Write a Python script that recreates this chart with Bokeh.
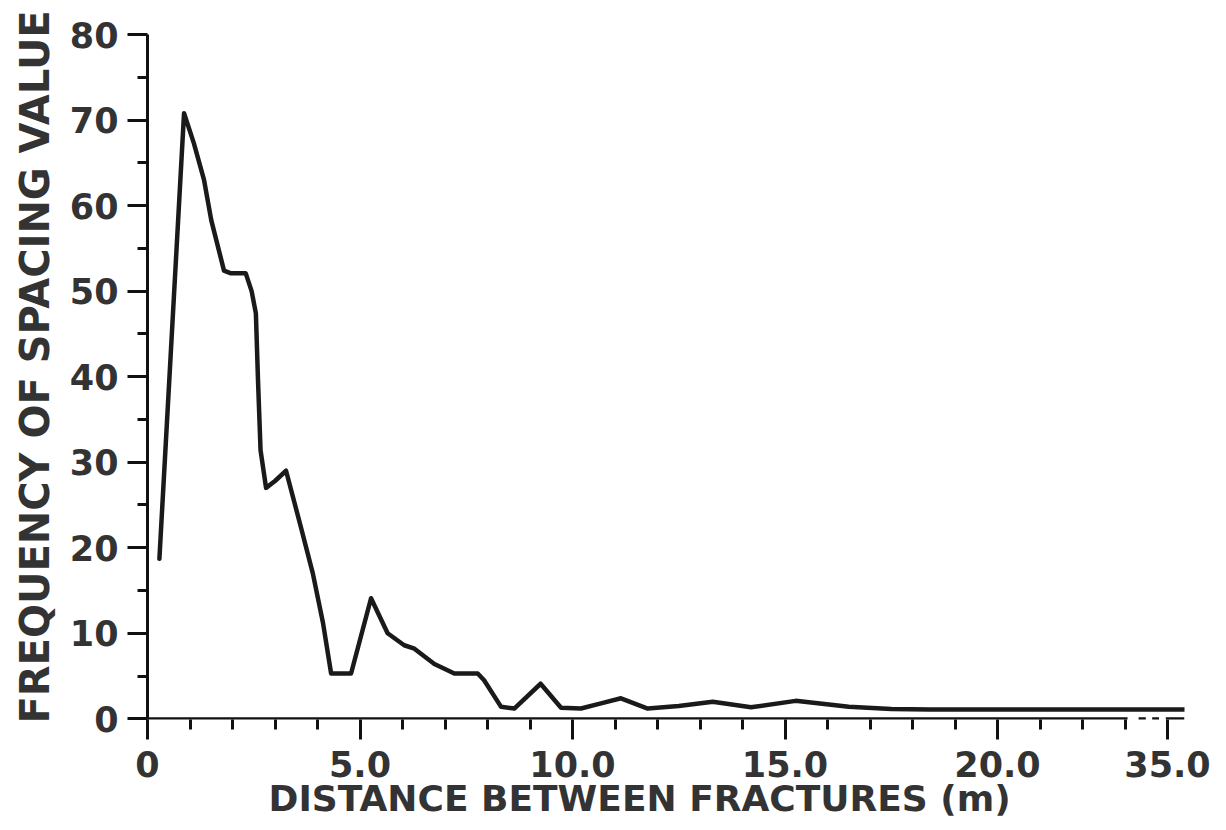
from bokeh.plotting import figure
from bokeh.models import Range1d, FixedTicker, Title
from bokeh.embed import file_html
from bokeh.resources import INLINE

# ---- data (distance in m, frequency of spacing value) ----
distance = [0.28, 0.86, 1.09, 1.33, 1.50, 1.80, 1.95, 2.31, 2.45, 2.55, 2.60, 2.66,
            2.79, 3.00, 3.26, 3.61, 3.89, 4.13, 4.32, 4.79, 5.26, 5.65, 6.04, 6.28,
            6.75, 7.22, 7.77, 7.92, 8.32, 8.63, 9.25, 9.73, 10.20, 10.67, 11.14,
            11.77, 12.50, 13.30, 14.20, 15.25, 16.50, 17.50, 18.40, 23.00, 35.40]
frequency = [18.7, 70.8, 67.3, 63.0, 58.3, 52.4, 52.1, 52.1, 50.0, 47.4, 39.6, 31.4,
             27.0, 27.8, 29.0, 22.4, 17.0, 11.2, 5.3, 5.3, 14.1, 10.0, 8.6, 8.2,
             6.4, 5.3, 5.3, 4.5, 1.4, 1.2, 4.1, 1.3, 1.2, 1.8, 2.4,
             1.2, 1.5, 2.0, 1.35, 2.1, 1.4, 1.15, 1.1, 1.1, 1.1]

x_tick_values = [0, 5, 10, 15, 20, 35]
x_tick_labels = ["0", "5.0", "10.0", "15.0", "20.0", "35.0"]
y_tick_values = [0, 10, 20, 30, 40, 50, 60, 70, 80]
y_tick_labels = ["0", "10", "20", "30", "40", "50", "60", "70", "80"]

x_title = "DISTANCE BETWEEN FRACTURES (m)"
y_title = "FREQUENCY OF SPACING VALUE"

# broken x axis: 23 m is followed directly by the 35 m tick
BREAK_FROM, BREAK_TO, BREAK_POS = 23.0, 35.0, 24.0


def to_plot(d):
    return d if d <= BREAK_FROM else BREAK_POS + (d - BREAK_TO)


xs = [to_plot(d) for d in distance]
x_major = [to_plot(v) for v in x_tick_values]
x_minor = [float(i) for i in range(1, 24) if i not in (5, 10, 15, 20)]

TEXT = "#333333"
INK = "#111111"
FONT = "DejaVu Sans"

p = figure(width=1226, height=830, x_range=Range1d(0, 24.4), y_range=Range1d(-0.08, 80),
           output_backend="svg", toolbar_location=None,
           min_border_left=147, min_border_right=42, min_border_top=34, min_border_bottom=111)
p.grid.visible = False
p.outline_line_color = None
p.background_fill_color = "white"
p.border_fill_color = "white"

xa = p.xaxis[0]
xa.ticker = FixedTicker(ticks=x_major, minor_ticks=x_minor)
xa.major_label_overrides = {float(k): v for k, v in zip(x_major, x_tick_labels)}
xa.axis_line_color = None
xa.major_tick_in = 0
xa.major_tick_out = 20
xa.minor_tick_in = 0
xa.minor_tick_out = 10
xa.major_tick_line_width = 3
xa.minor_tick_line_width = 3
xa.major_tick_line_color = INK
xa.minor_tick_line_color = INK
xa.major_label_standoff = 11
xa.major_label_text_font = FONT
xa.major_label_text_font_style = "bold"
xa.major_label_text_font_size = "35px"
xa.major_label_text_color = TEXT

ya = p.yaxis[0]
ya.ticker = FixedTicker(ticks=y_tick_values, minor_ticks=[5, 15, 25, 35, 45, 55, 65, 75])
ya.major_label_overrides = {float(k): v for k, v in zip(y_tick_values, y_tick_labels)}
ya.axis_line_width = 3
ya.axis_line_color = INK
ya.major_tick_in = 0
ya.major_tick_out = 20
ya.minor_tick_in = 0
ya.minor_tick_out = 10
ya.major_tick_line_width = 3
ya.minor_tick_line_width = 3
ya.major_tick_line_color = INK
ya.minor_tick_line_color = INK
ya.major_label_standoff = 9
ya.major_label_text_font = FONT
ya.major_label_text_font_style = "bold"
ya.major_label_text_font_size = "35px"
ya.major_label_text_color = TEXT

p.add_layout(Title(text=x_title, align="left", offset=121, standoff=-8,
                   text_font=FONT, text_font_style="bold", text_font_size="36px",
                   text_color=TEXT), "below")
p.add_layout(Title(text=y_title, align="left", offset=-4, standoff=17,
                   text_font=FONT, text_font_style="bold", text_font_size="40px",
                   text_color=TEXT), "left")

# x axis line with the break (solid, two dots, solid)
p.segment(x0=[0, 23.32, 23.64, 23.96], y0=[0, 0, 0, 0],
          x1=[23.06, 23.49, 23.80, 24.4], y1=[0, 0, 0, 0],
          line_width=3, line_color=INK)

p.line(xs, frequency, line_width=4.5, line_color="#1a1a1a", line_join="round", line_cap="round")

open("out.html", "w").write(file_html(p, INLINE))
